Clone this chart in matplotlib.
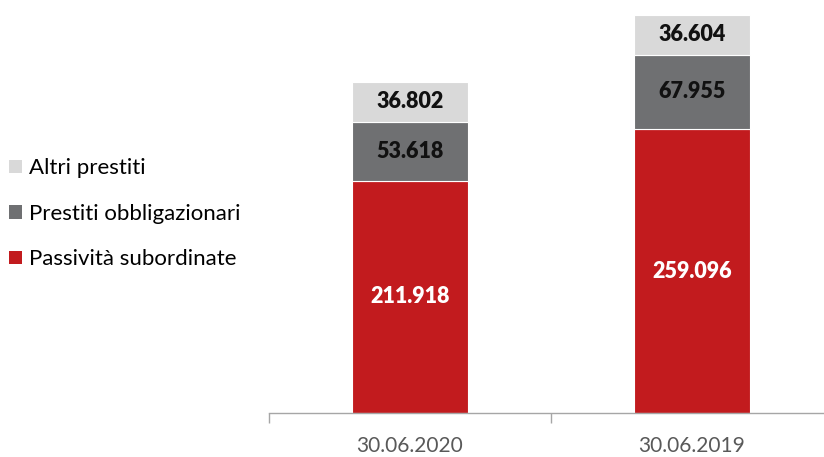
import matplotlib
matplotlib.use("Agg")
import matplotlib.pyplot as plt
from matplotlib.patches import Patch

categories = ["30.06.2020", "30.06.2019"]
series_names = ["Passività subordinate", "Prestiti obbligazionari", "Altri prestiti"]
passivita = [211.918, 259.096]
obbligazionari = [53.618, 67.955]
altri = [36.802, 36.604]
value_labels = [["211.918", "259.096"], ["53.618", "67.955"], ["36.802", "36.604"]]

colors = ["#C21B1E", "#6F7072", "#D9D9D9"]
text_colors = ["white", "#111111", "#111111"]

plt.rcParams['font.family'] = ['Lato', 'DejaVu Sans']

fig = plt.figure(figsize=(8.24, 4.57), dpi=100)
ax = fig.add_axes([269/824, 1 - 413/457, 564/824, 413/457])

x = list(range(len(categories)))
bottoms = [0.0] * len(categories)
series = [passivita, obbligazionari, altri]
for vals, col, tcol, labs in zip(series, colors, text_colors, value_labels):
    bars = ax.bar(x, vals, width=0.41, bottom=bottoms, color=col,
                  edgecolor="white", linewidth=0.8)
    for xi, v, b, lab in zip(x, vals, bottoms, labs):
        ax.text(xi, b + v / 2, lab, ha="center", va="center",
                color=tcol, fontsize=15.5, fontweight="heavy")
    bottoms = [b + v for b, v in zip(bottoms, vals)]

ax.set_xlim(-0.5, 1.5)
ax.set_ylim(0, 377)
for s in ["top", "right", "left"]:
    ax.spines[s].set_visible(False)
ax.spines["bottom"].set_color("#A6A6A6")
ax.spines["bottom"].set_linewidth(1.0)
ax.set_yticks([])
ax.set_xticks(x)
ax.set_xticklabels(categories, fontsize=15, color="#595959")
ax.tick_params(axis="x", which="major", length=0, pad=16.5)
ax.set_xticks([-0.5, 0.5, 1.5], minor=True)
ax.tick_params(axis="x", which="minor", length=7, color="#A6A6A6", width=1.0)

handles = [Patch(facecolor=c, edgecolor="none") for c in colors[::-1]]
fig.legend(handles, series_names[::-1], loc="upper left",
           bbox_to_anchor=(5/824, 1 - 154/457), frameon=False,
           fontsize=16, handlelength=0.55, handleheight=0.55,
           handletextpad=0.33, labelspacing=1.14, borderaxespad=0,
           borderpad=0.2)

fig.savefig("out.png", dpi=100)
